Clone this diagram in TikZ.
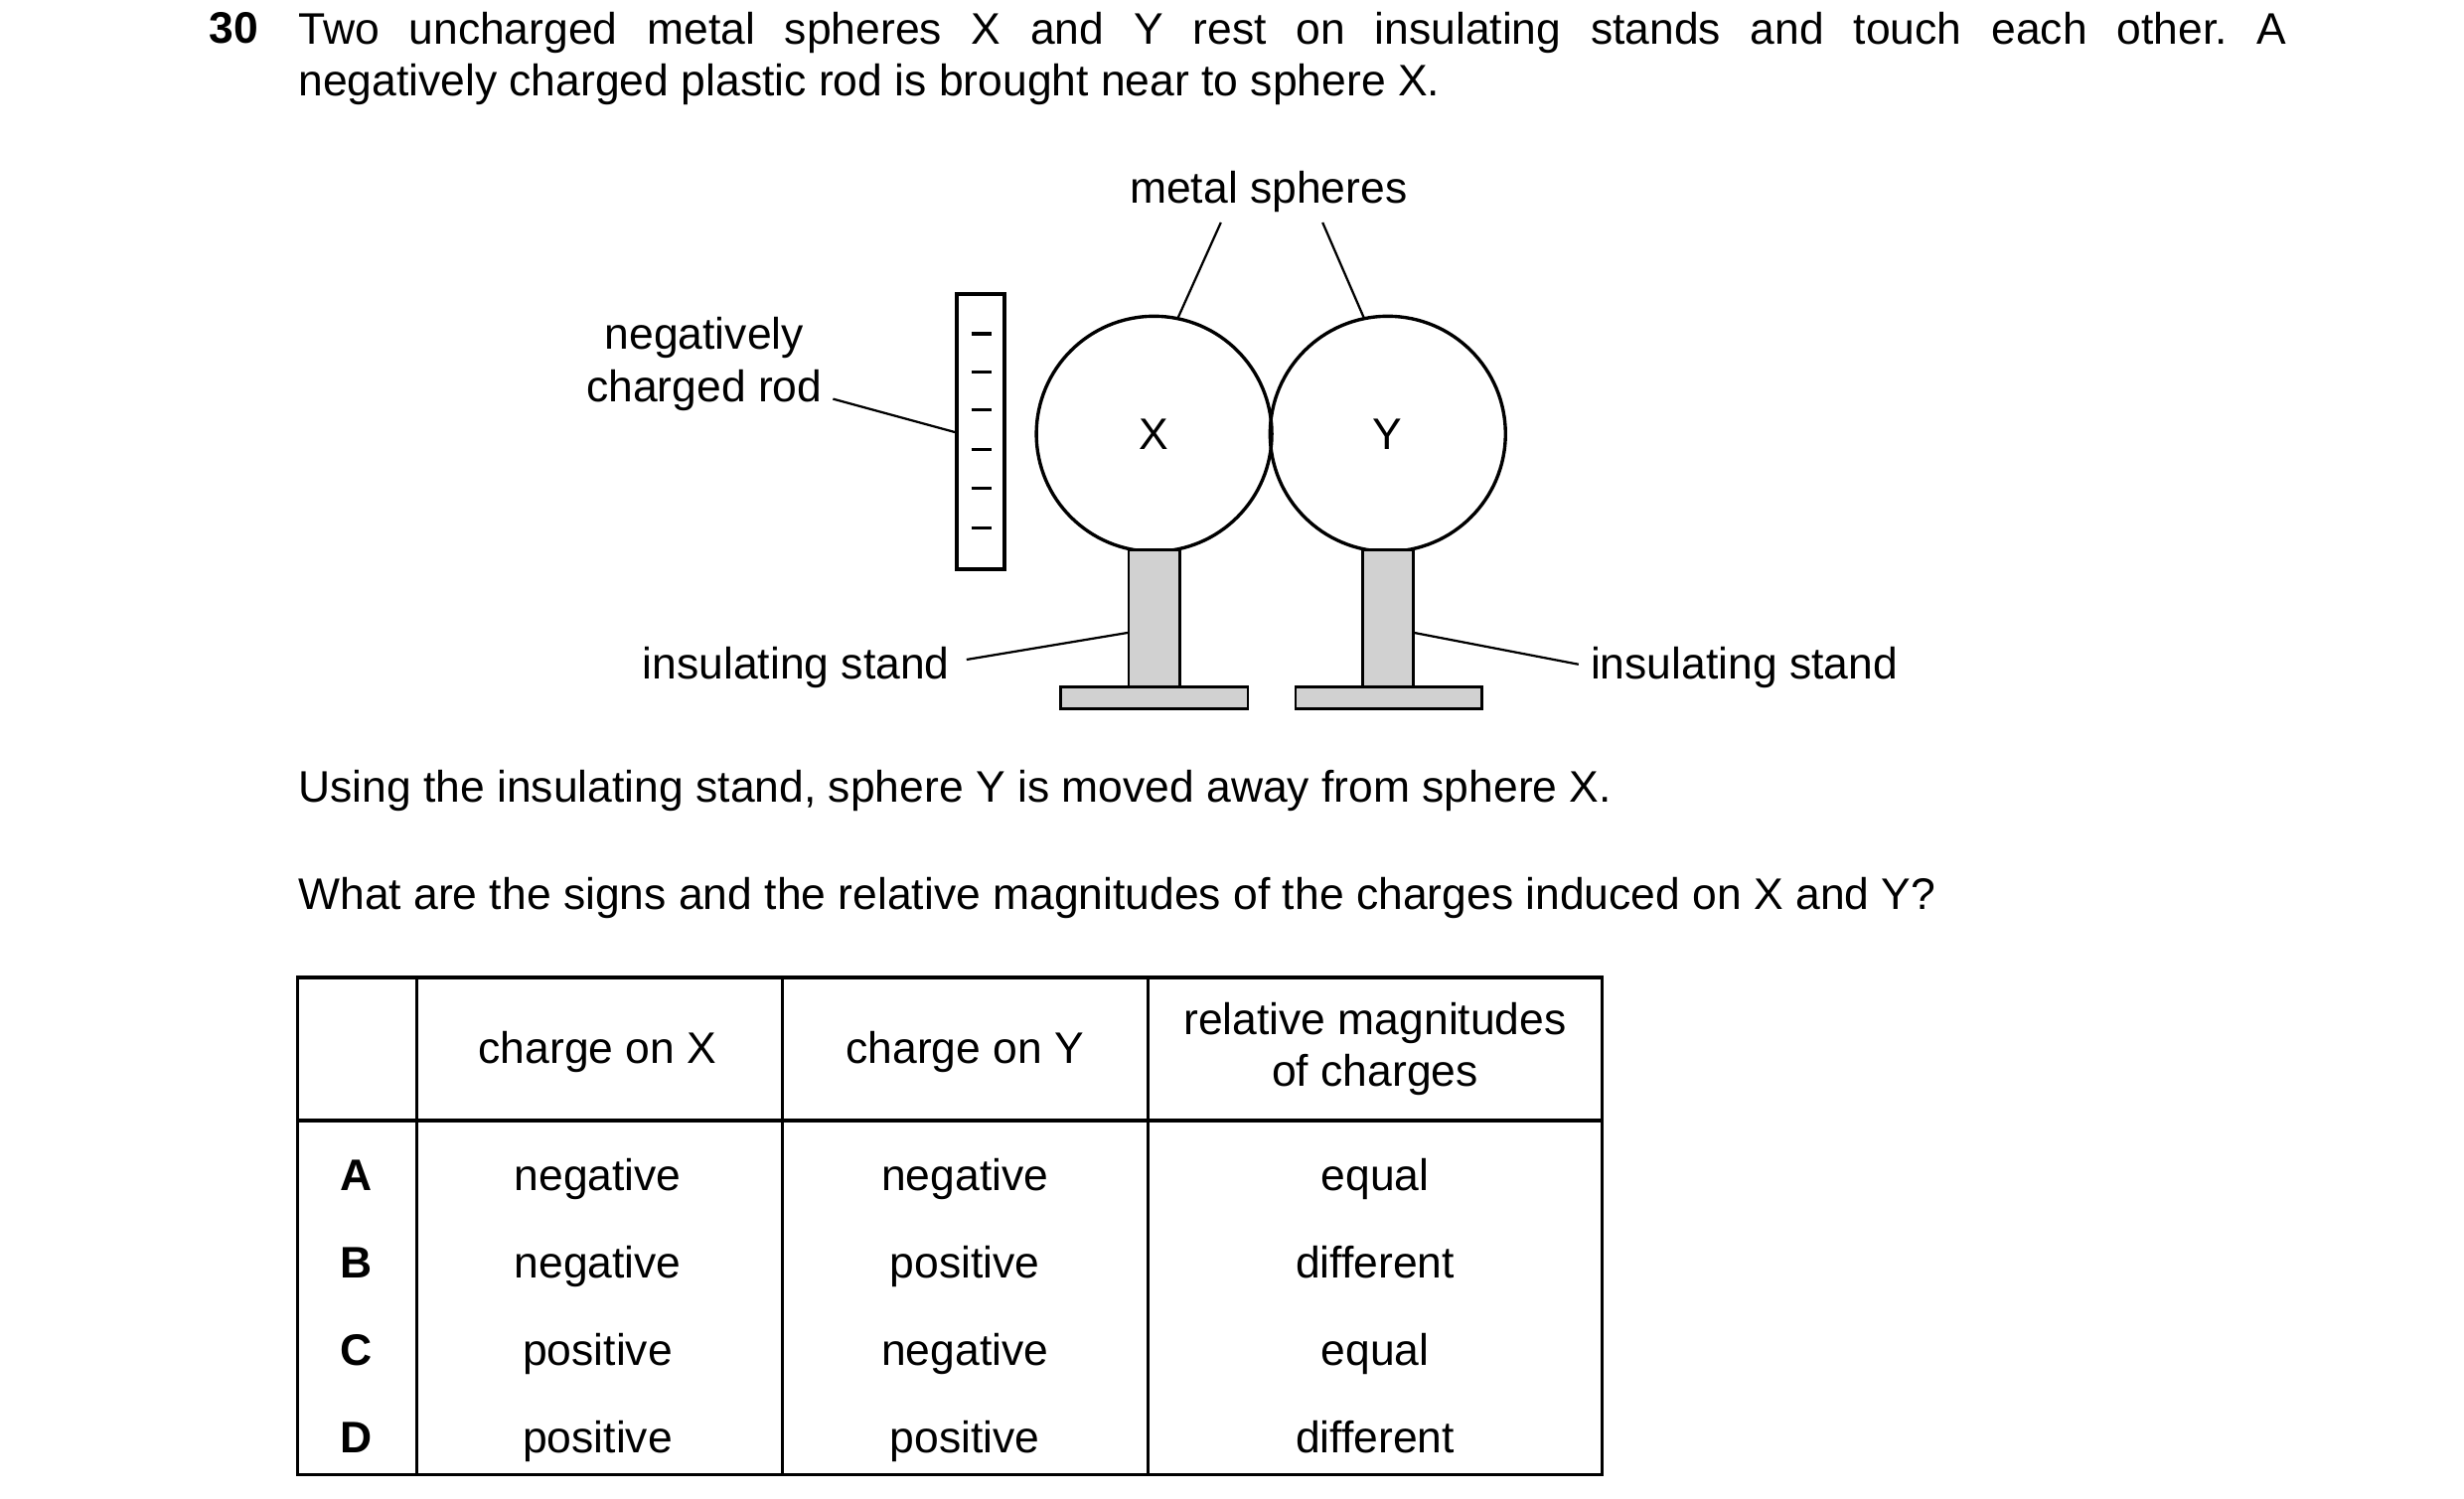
\documentclass[tikz,border=0pt]{standalone}
\usepackage{fontspec}
\setmainfont{Liberation Sans}
\usetikzlibrary{positioning}
\frenchspacing
\begin{document}
\begin{tikzpicture}[x=0.01cm,y=-0.01cm,font=\fontsize{7.9}{9.3}\selectfont,
	stand/.style={draw,fill=black!18,line width=0.5pt},
	lead/.style={line width=0.4pt},
	cell/.style={inner sep=0pt,anchor=base}]
	\useasboundingbox (0,0) rectangle (1550,943);
	% question text
	\node[anchor=base west,inner sep=0pt,font=\fontsize{7.9}{9.3}\selectfont\bfseries] (num) at (131,27) {30};
	\node[anchor=north west,inner sep=0pt,text width=12.5cm,align=justify] (q) at (187,7)
		{Two uncharged metal spheres X and Y rest on insulating stands and touch each other. A\linebreak negatively charged plastic rod is brought near to sphere X.};
	% spheres and stands
	\node[draw,circle,minimum size=1.48cm,line width=0.6pt] (X) at (726,273) {X};
	\node[draw,circle,minimum size=1.48cm,line width=0.6pt] (Y) at (873,273) {Y};
	\draw[stand] (710,346) rectangle (742,432);
	\draw[stand] (667,432) rectangle (785,446);
	\draw[stand] (857,346) rectangle (889,432);
	\draw[stand] (815,432) rectangle (932,446);
	% rod
	\draw[line width=0.8pt] (602,185) rectangle (632,358);
	\foreach \y in {210,234,258,283,307,332}
		\draw[line width=0.6pt] (611,\y) -- (624,\y);
	% labels
	\node[cell] (ms) at (798,128) {metal spheres};
	\coordinate (msX) at (741,200);
	\coordinate (msY) at (858,200);
	\draw[lead] (768,140) -- (msX);
	\draw[lead] (832,140) -- (msY);
	\node[anchor=north,inner sep=0pt,align=center] (rod) at (443,199) {negatively\\charged rod};
	\coordinate (rodE) at (601,272);
	\draw[lead] (524,251) -- (rodE);
	\node[cell,anchor=base east] (isL) at (598,427) {insulating stand};
	\node[cell,anchor=base west] (isR) at (1000,427) {insulating stand};
	\coordinate (stX) at (710,398);
	\coordinate (stY) at (889,398);
	\draw[lead] (608,415) -- (stX);
	\draw[lead] (993,418) -- (stY);
	\node[cell,anchor=base west] (t1) at (187,505) {Using the insulating stand, sphere Y is moved away from sphere X.};
	\node[cell,anchor=base west] (t2) at (187,572) {What are the signs and the relative magnitudes of the charges induced on X and Y?};
	% table
	\draw[line width=0.6pt] (187,615) rectangle (1008,928);
	\draw[line width=0.6pt] (187,705) -- (1008,705);
	\foreach \x in {262,492,722}
		\draw[line width=0.6pt] (\x,615) -- (\x,928);
	\node[cell] (hX) at (376,669) {charge on X};
	\node[cell] (hY) at (607,669) {charge on Y};
	\node[anchor=center,inner sep=0pt,align=center] (hR) at (865,660) {relative magnitudes\\of charges};
	\foreach \l/\a/\b/\c [count=\i] in {A/negative/negative/equal,B/negative/positive/different,C/positive/negative/equal,D/positive/positive/different}{
		\node[cell,font=\fontsize{7.9}{9.3}\selectfont\bfseries] (r\i) at (224,694+55*\i) {\l};
		\node[cell] (x\i) at (376,694+55*\i) {\a};
		\node[cell] (y\i) at (607,694+55*\i) {\b};
		\node[cell] (m\i) at (865,694+55*\i) {\c};
	}
\end{tikzpicture}
\end{document}
